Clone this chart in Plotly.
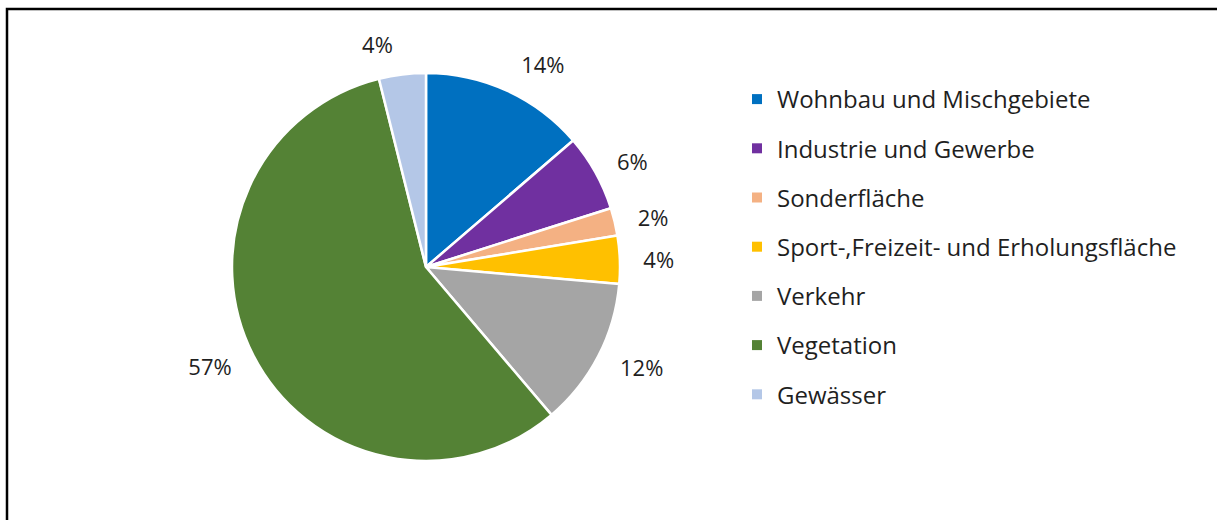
import plotly.graph_objects as go

labels = [
    "Wohnbau und Mischgebiete",
    "Industrie und Gewerbe",
    "Sonderfläche",
    "Sport-,Freizeit- und Erholungsfläche",
    "Verkehr",
    "Vegetation",
    "Gewässer",
]
values = [13.7, 6.4, 2.3, 4.0, 12.4, 57.3, 3.9]
colors = ["#0070C0", "#7030A0", "#F4B183", "#FFC000", "#A5A5A5", "#548235", "#B4C7E7"]

W, H = 1217, 520
text_color = "#1f1f1f"

# pie centre and radius in pixels
cx, cy, r = 426, 267, 194
lab_r = r + 16  # labels sit a bit away from the slices


def dom(rad):
    return dict(
        x=[(cx - rad) / W, (cx + rad) / W],
        y=[(H - cy - rad) / H, (H - cy + rad) / H],
    )


fig = go.Figure()

fig.add_trace(
    go.Pie(
        labels=labels,
        values=values,
        sort=False,
        direction="clockwise",
        rotation=0,
        marker=dict(colors=colors, line=dict(color="white", width=2.5)),
        textinfo="none",
        showlegend=False,
        hoverinfo="label+percent",
        domain=dom(r),
    )
)

# invisible copy of the pie, only used to carry the percentage labels
fig.add_trace(
    go.Pie(
        labels=labels,
        values=values,
        sort=False,
        direction="clockwise",
        rotation=0,
        marker=dict(colors=["rgba(0,0,0,0)"] * len(labels), line=dict(width=0)),
        textinfo="percent",
        texttemplate="%{percent:.0%}",
        textposition="outside",
        outsidetextfont=dict(size=22, color=text_color),
        showlegend=False,
        hoverinfo="skip",
        domain=dom(lab_r),
    )
)

# legend entries (one group each so the spacing can be set)
for name, col in zip(labels, colors):
    fig.add_trace(
        go.Scatter(
            x=[None],
            y=[None],
            mode="markers",
            name=name,
            legendgroup=name,
            marker=dict(symbol="square", size=10, color=col),
        )
    )

# frame around the chart
fig.add_shape(
    type="rect",
    xref="paper",
    yref="paper",
    x0=7 / W,
    x1=1.02,
    y0=-0.05,
    y1=1 - 9 / H,
    line=dict(color="black", width=2.5),
)

fig.update_xaxes(visible=False)
fig.update_yaxes(visible=False)

fig.update_layout(
    width=W,
    height=H,
    margin=dict(l=0, r=0, t=0, b=0),
    paper_bgcolor="white",
    plot_bgcolor="white",
    font=dict(family="Open Sans", color=text_color),
    showlegend=True,
    legend=dict(
        x=737 / W,
        y=1 - 77 / H,
        xanchor="left",
        yanchor="top",
        font=dict(size=24, color=text_color),
        tracegroupgap=15,
        bgcolor="rgba(0,0,0,0)",
    ),
)

fig.write_html(
    "out.html",
    config={"displayModeBar": False},
    post_script="document.body.style.margin='0';document.body.style.overflow='hidden';",
)
